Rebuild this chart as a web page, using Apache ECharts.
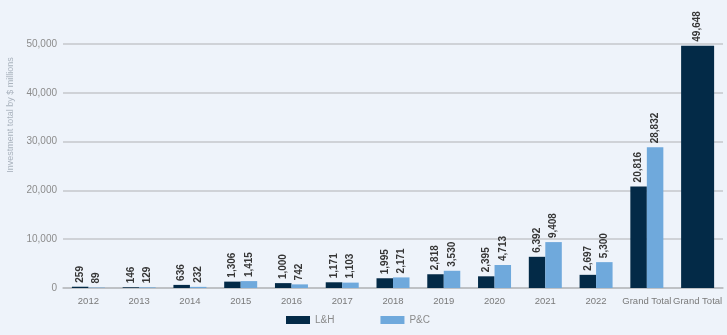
<!DOCTYPE html>
<html>
<head>
<meta charset="utf-8">
<script src="https://cdn.jsdelivr.net/npm/echarts@6/dist/echarts.min.js"></script>
<style>
  html, body { margin: 0; padding: 0; background: #eef3fa; }
  #chart { width: 727px; height: 335px; }
</style>
</head>
<body>
<div id="chart"></div>
<script>
// Investment by year, L&H vs P&C, with grand totals
const categories = ['2012', '2013', '2014', '2015', '2016', '2017', '2018', '2019', '2020', '2021', '2022', 'Grand Total', 'Grand Total'];
const lhValues = [259, 146, 636, 1306, 1000, 1171, 1995, 2818, 2395, 6392, 2697, 20816, null];
const pcValues = [89, 129, 232, 1415, 742, 1103, 2171, 3530, 4713, 9408, 5300, 28832, null];
const combinedTotal = [null, null, null, null, null, null, null, null, null, null, null, null, 49648];
const yTicks = [0, 10000, 20000, 30000, 40000, 50000];

const DARK = '#032a47';
const LIGHT = '#6fa9dc';
const FONT = '"Liberation Sans Narrow", "Liberation Sans", Arial, sans-serif';

const fmt = v => Number(v).toLocaleString('en-US');

const barLabel = {
  show: true,
  position: 'top',
  rotate: 90,
  align: 'left',
  verticalAlign: 'middle',
  distance: 4,
  fontFamily: FONT,
  fontSize: 10,
  fontWeight: 'bold',
  color: '#363636',
  formatter: p => fmt(p.value)
};

const chart = echarts.init(document.getElementById('chart'), null, { renderer: 'canvas' });

chart.setOption({
  backgroundColor: '#eef3fa',
  animation: false,
  textStyle: { fontFamily: FONT },
  grid: { left: 63, right: 4, top: 44, bottom: 47 },
  legend: {
    data: ['L&H', 'P&C'],
    left: 286,
    top: 315,
    padding: 0,
    itemWidth: 24,
    itemHeight: 8,
    itemGap: 46,
    icon: 'rect',
    textStyle: { fontFamily: FONT, fontSize: 10, color: '#8a8a8a' }
  },
  graphic: [{
    type: 'text',
    x: 11,
    y: 115,
    rotation: Math.PI / 2,
    style: {
      text: 'Investment total by $ millions',
      fontFamily: FONT,
      fontSize: 9,
      fill: '#aab3be',
      align: 'center',
      verticalAlign: 'middle'
    }
  }],
  xAxis: [{
    type: 'category',
    data: categories,
    axisTick: { show: false },
    axisLine: { lineStyle: { color: '#b9bcc0', width: 1.5 } },
    axisLabel: { interval: 0, margin: 8, fontSize: 9.5, color: '#7a7a7a', fontFamily: FONT }
  }, {
    type: 'category',
    data: categories,
    show: false
  }],
  yAxis: {
    type: 'value',
    min: yTicks[0],
    max: yTicks[yTicks.length - 1],
    interval: 10000,
    axisLine: { show: false },
    axisTick: { show: false },
    splitLine: { lineStyle: { color: '#c4c7cb', width: 1.5 } },
    axisLabel: { margin: 6, fontSize: 10, color: '#8c8c8c', fontFamily: FONT, formatter: v => fmt(v) }
  },
  series: [{
    name: 'L&H',
    type: 'bar',
    data: lhValues,
    barWidth: 16.5,
    barGap: '0%',
    itemStyle: { color: DARK },
    label: barLabel
  }, {
    name: 'P&C',
    type: 'bar',
    data: pcValues,
    barWidth: 16.5,
    barGap: '0%',
    itemStyle: { color: LIGHT },
    label: barLabel
  }, {
    name: 'Total',
    type: 'bar',
    xAxisIndex: 1,
    data: combinedTotal,
    barWidth: 33,
    itemStyle: { color: DARK },
    label: barLabel
  }]
});
</script>
</body>
</html>
